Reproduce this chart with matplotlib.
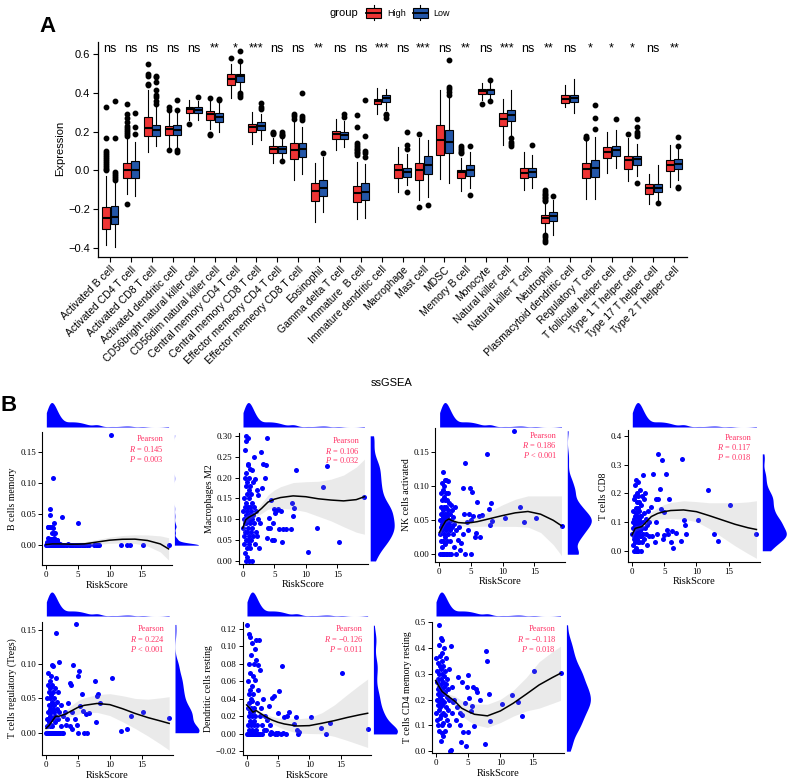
import numpy as np
import matplotlib
matplotlib.use("Agg")
import matplotlib.pyplot as plt
from matplotlib.legend_handler import HandlerBase
from matplotlib.patches import Rectangle, Patch
from matplotlib.lines import Line2D

plt.rcParams['font.family'] = ['Liberation Serif', 'DejaVu Serif']
plt.rcParams['mathtext.fontset'] = 'custom'
plt.rcParams['mathtext.it'] = 'Liberation Serif:italic'
plt.rcParams['mathtext.rm'] = 'Liberation Serif'

# ---------------- panel A data : ssGSEA boxplots ----------------
cells = ["Activated B cell", "Activated CD4 T cell", "Activated CD8 T cell", "Activated dendritic cell",
         "CD56bright natural killer cell", "CD56dim natural killer cell", "Central memory CD4 T cell",
         "Central memory CD8 T cell", "Effector memeory CD4 T cell", "Effector memeory CD8 T cell",
         "Eosinophil", "Gamma delta T cell", "Immature  B cell", "Immature dendritic cell", "Macrophage",
         "Mast cell", "MDSC", "Memory B cell", "Monocyte", "Natural killer cell", "Natural killer T cell",
         "Neutrophil", "Plasmacytoid dendritic cell", "Regulatory T cell", "T follicular helper cell",
         "Type 1 T helper cell", "Type 17 T helper cell", "Type 2 T helper cell"]
sig = ["ns", "ns", "ns", "ns", "ns", "**", "*", "***", "ns", "ns", "**", "ns", "ns", "***",
       "ns", "***", "ns", "**", "ns", "***", "ns", "**", "ns", "*", "*", "*", "ns", "**"]

hi_q1 = [-0.304, -0.041, 0.177, 0.182, 0.297, 0.263, 0.443, 0.198, 0.088, 0.058,
         -0.156, 0.163, -0.162, 0.342, -0.038, -0.05, 0.079, -0.038, 0.393, 0.229,
         -0.041, -0.27, 0.35, -0.041, 0.062, 0.007, -0.122, -0.002]
hi_med = [-0.247, 0.0, 0.218, 0.213, 0.316, 0.29, 0.474, 0.222, 0.11, 0.105,
          -0.105, 0.186, -0.118, 0.359, 0.0, 0.002, 0.156, -0.01, 0.411, 0.268,
          -0.012, -0.247, 0.371, 0.01, 0.096, 0.053, -0.093, 0.027]
hi_q3 = [-0.189, 0.041, 0.277, 0.23, 0.325, 0.306, 0.497, 0.239, 0.125, 0.143,
         -0.064, 0.204, -0.079, 0.368, 0.031, 0.041, 0.234, 0.005, 0.423, 0.299,
         0.015, -0.23, 0.388, 0.036, 0.122, 0.076, -0.072, 0.053]
hi_lo = [-0.385, -0.119, 0.093, 0.122, 0.26, 0.216, 0.375, 0.139, 0.04, -0.05,
         -0.265, 0.105, -0.253, 0.294, -0.11, -0.153, -0.045, -0.105, 0.363, 0.131,
         -0.101, -0.325, 0.325, -0.148, -0.015, -0.055, -0.174, -0.084]
hi_hi = [-0.03, 0.16, 0.414, 0.30, 0.363, 0.36, 0.552, 0.302, 0.17, 0.255,
         0.041, 0.268, 0.045, 0.428, 0.122, 0.165, 0.414, 0.065, 0.452, 0.371,
         0.096, -0.17, 0.44, 0.15, 0.196, 0.17, -0.019, 0.134]
hi_out = [[0.33, 0.17, 0.10, 0.09, 0.08, 0.07, 0.06, 0.05, 0.04, 0.03, 0.02, 0.01, 0.0],
          [0.345, 0.29, 0.27, 0.25, 0.23, 0.22, 0.21, 0.20, 0.19, 0.18, -0.174],
          [0.55, 0.497, 0.49, 0.448, 0.44],
          [0.325, 0.31, 0.108],
          [0.239],
          [0.375, 0.19, 0.185],
          [0.582],
          [],
          [0.2, 0.195, 0.19],
          [0.294, 0.28, 0.268],
          [],
          [],
          [0.285, 0.225, 0.14, 0.13, 0.122, 0.113, 0.105, 0.096, 0.088, 0.079],
          [],
          [],
          [0.19, -0.187],
          [],
          [0.127, 0.117, 0.108, 0.096, 0.088],
          [0.344],
          [],
          [],
          [-0.101, -0.11, -0.119, -0.128, -0.136, -0.143, -0.15, -0.155, -0.333, -0.345, -0.359, -0.371],
          [],
          [0.177, 0.17, 0.165],
          [],
          [0.186],
          [],
          []]

lo_q1 = [-0.277, -0.038, 0.177, 0.182, 0.299, 0.251, 0.457, 0.208, 0.091, 0.067,
         -0.132, 0.163, -0.153, 0.354, -0.033, -0.019, 0.088, -0.029, 0.397, 0.256,
         -0.033, -0.259, 0.354, -0.033, 0.076, 0.027, -0.113, 0.01]
lo_med = [-0.239, 0.0, 0.208, 0.211, 0.314, 0.277, 0.486, 0.232, 0.113, 0.11,
          -0.089, 0.182, -0.11, 0.376, -0.01, 0.027, 0.148, 0.002, 0.414, 0.285,
          -0.01, -0.235, 0.375, 0.015, 0.105, 0.057, -0.089, 0.033]
lo_q3 = [-0.184, 0.048, 0.237, 0.234, 0.325, 0.297, 0.5, 0.251, 0.125, 0.143,
         -0.05, 0.2, -0.067, 0.392, 0.015, 0.077, 0.208, 0.027, 0.423, 0.314,
         0.015, -0.213, 0.388, 0.053, 0.127, 0.077, -0.072, 0.057]
lo_lo = [-0.393, -0.132, 0.127, 0.113, 0.26, 0.2, 0.414, 0.156, 0.062, -0.019,
         -0.216, 0.122, -0.247, 0.311, -0.076, -0.136, -0.064, -0.093, 0.363, 0.182,
         -0.089, -0.333, 0.299, -0.148, 0.014, -0.03, -0.153, -0.05]
lo_hi = [-0.06, 0.145, 0.33, 0.30, 0.36, 0.355, 0.55, 0.294, 0.17, 0.225,
         0.067, 0.255, 0.033, 0.423, 0.085, 0.156, 0.38, 0.096, 0.455, 0.414,
         0.079, -0.153, 0.471, 0.174, 0.208, 0.139, 0.027, 0.115]
lo_out = [[0.36, 0.165, -0.01, -0.02, -0.03, -0.04, -0.05],
          [0.297, 0.225, 0.19],
          [0.49, 0.48, 0.457, 0.414, 0.39, 0.38, 0.36, 0.345],
          [0.363, 0.314, 0.105, 0.096],
          [0.38],
          [0.37, 0.363],
          [0.615, 0.565, 0.40, 0.39, 0.38],
          [0.349, 0.328, 0.318],
          [0.2, 0.19, 0.183, 0.176, 0.048],
          [0.4, 0.28, 0.27, 0.26],
          [0.091],
          [0.294, 0.277],
          [0.363, 0.177, 0.1, 0.088, 0.07],
          [0.294, 0.285, 0.273],
          [0.2, 0.13, 0.11, -0.11],
          [-0.179],
          [0.569, 0.43, 0.418, 0.405, 0.39],
          [0.127, -0.127],
          [0.466, 0.359],
          [0.165, 0.148, 0.139, 0.127],
          [0.13],
          [-0.131],
          [],
          [0.337, 0.271, 0.216],
          [0.268],
          [0.268, 0.225, 0.2, 0.19, 0.177, -0.067],
          [-0.167],
          [0.174, 0.125, -0.084, -0.093]]

# ---------------- panel B data : RiskScore vs immune cells ----------------
risk_core = [0.05, 0.1, 0.15, 0.2, 0.2, 0.25, 0.3, 0.3, 0.35, 0.35, 0.4, 0.4,
             0.45, 0.45, 0.5, 0.5, 0.55, 0.55, 0.6, 0.6, 0.6, 0.65, 0.65, 0.7,
             0.7, 0.75, 0.75, 0.8, 0.8, 0.8, 0.85, 0.85, 0.9, 0.9, 0.95, 0.95,
             1.0, 1.0, 1.0, 1.05, 1.05, 1.1, 1.1, 1.15, 1.15, 1.2, 1.2, 1.25,
             1.3, 1.3, 1.35, 1.4, 1.4, 1.45, 1.5, 1.55, 1.6, 1.65, 1.7, 1.75,
             1.8, 1.85, 1.9, 2.0, 2.05, 2.1, 2.2, 2.3, 2.4, 2.5, 2.6, 2.7]
risk_tail = [2.9, 3.1, 3.3, 3.5, 3.7, 3.8, 3.9, 4.0, 4.1, 4.3, 4.5, 4.7, 4.8, 5.0, 5.0, 5.2, 5.4,
             5.6, 5.8, 6.0, 6.2, 6.4, 6.8, 7.6, 7.8, 8.0, 8.2, 8.4, 10.3, 11.8, 12.7, 13.3, 15.2, 19.3]

b_cells_memory = [0, 0, 0.003, 0, 0.005, 0.03, 0, 0.03, 0.011, 0, 0, 0.006,
                  0, 0.01, 0, 0.003, 0, 0.03, 0.059, 0.049, 0, 0.01, 0, 0,
                  0, 0.002, 0, 0.004, 0, 0.01, 0, 0, 0.03, 0.02, 0, 0.006,
                  0, 0.01, 0, 0.108, 0, 0.028, 0, 0.004, 0, 0.012, 0, 0.02,
                  0.035, 0, 0, 0.02, 0, 0.003, 0, 0.006, 0.005, 0, 0.008, 0,
                  0.009, 0, 0.003, 0, 0.001, 0, 0.002, 0, 0, 0.045, 0, 0,
                  0, 0.001, 0, 0.002, 0, 0, 0, 0.001, 0, 0, 0, 0, 0, 0.035, 0, 0, 0,
                  0, 0, 0, 0, 0, 0, 0, 0, 0, 0, 0, 0.178, 0, 0, 0, 0, 0]
macrophages_m2 = [0.08, 0.12, 0.06, 0.15, 0.10, 0.04, 0.2, 0.09, 0.13, 0.02, 0.265, 0.07,
                  0.18, 0.11, 0.288, 0.05, 0.14, 0.0, 0.30, 0.09, 0.21, 0.03, 0.12, 0.16,
                  0.07, 0.19, 0.01, 0.1, 0.23, 0.05, 0.13, 0.08, 0.295, 0.233, 0.04, 0.17,
                  0.11, 0.06, 0.2, 0.15, 0.0, 0.09, 0.13, 0.22, 0.03, 0.1, 0.18, 0.07,
                  0.12, 0.05, 0.16, 0.217, 0.08, 0.1, 0.0, 0.14, 0.06, 0.19, 0.11, 0.25,
                  0.09, 0.13, 0.04, 0.197, 0.07, 0.12, 0.17, 0.06, 0.1, 0.158, 0.03, 0.09,
                  0.26, 0.175, 0.233, 0.20, 0.229, 0.295, 0.055, 0.08, 0.103, 0.079, 0.145, 0.05,
                  0.09, 0.124, 0.05, 0.115, 0.122, 0.125, 0.077, 0.12, 0.046, 0.077, 0.077, 0.077,
                  0.14, 0.108, 0.128, 0.219, 0.021, 0.078, 0.177, 0.228, 0.046, 0.154]
nk_activated = [0.03, 0.05, 0.0, 0.07, 0.04, 0.02, 0.09, 0.06, 0.0, 0.045, 0.105, 0.035,
                0.06, 0.01, 0.08, 0.05, 0.0, 0.095, 0.121, 0.04, 0.065, 0.02, 0.055, 0.085,
                0.03, 0.07, 0.0, 0.05, 0.1, 0.04, 0.06, 0.015, 0.08, 0.045, 0.11, 0.025,
                0.05, 0.0, 0.09, 0.035, 0.07, 0.11, 0.045, 0.02, 0.06, 0.08, 0.0, 0.055,
                0.108, 0.04, 0.065, 0.03, 0.09, 0.05, 0.0, 0.075, 0.045, 0.02, 0.06, 0.035,
                0.072, 0.05, 0.0, 0.04, 0.065, 0.03, 0.055, 0.01, 0.045, 0.07, 0.0, 0.035,
                0.021, 0.04, 0.006, 0.016, 0.097, 0.03, 0.06, 0.135, 0.0, 0.048, 0.035, 0.06,
                0.097, 0.05, 0.0, 0.092, 0.056, 0.026, 0.031, 0.077, 0.056, 0.026, 0.058, 0.147,
                0.067, 0.043, 0.075, 0.049, 0.054, 0.182, 0.069, 0.047, 0.054, 0.042]
t_cd8 = [0.06, 0.1, 0.02, 0.14, 0.08, 0.04, 0.18, 0.0, 0.11, 0.05, 0.23, 0.07,
         0.12, 0.03, 0.19, 0.09, 0.0, 0.15, 0.245, 0.06, 0.1, 0.01, 0.13, 0.08,
         0.05, 0.17, 0.0, 0.09, 0.2, 0.04, 0.12, 0.07, 0.24, 0.03, 0.15, 0.1,
         0.06, 0.19, 0.0, 0.11, 0.08, 0.14, 0.03, 0.17, 0.09, 0.05, 0.12, 0.21,
         0.07, 0.1, 0.0, 0.16, 0.05, 0.12, 0.08, 0.03, 0.19, 0.265, 0.1, 0.06,
         0.13, 0.04, 0.18, 0.08, 0.2, 0.06, 0.11, 0.02, 0.09, 0.14, 0.05, 0.1,
         0.151, 0.05, 0.267, 0.031, 0.179, 0.1, 0.058, 0.337, 0.179, 0.215, 0.145, 0.316,
         0.04, 0.135, 0.055, 0.267, 0.072, 0.06, 0.179, 0.031, 0.07, 0.008, 0.063, 0.034,
         0.319, 0.107, 0.09, 0.06, 0.107, 0.212, 0.057, 0.035, 0.16, 0.057]
tregs = [0.0, 0.02, 0.0, 0.05, 0.01, 0.0, 0.07, 0.03, 0.0, 0.087, 0.015, 0.04,
         0.0, 0.06, 0.02, 0.0, 0.035, 0.075, 0.0, 0.01, 0.05, 0.0, 0.025, 0.065,
         0.0, 0.04, 0.012, 0.0, 0.083, 0.03, 0.0, 0.055, 0.099, 0.0, 0.02, 0.045,
         0.0, 0.07, 0.01, 0.035, 0.0, 0.06, 0.02, 0.0, 0.098, 0.04, 0.0, 0.03,
         0.05, 0.0, 0.015, 0.065, 0.0, 0.025, 0.145, 0.0, 0.08, 0.035, 0.0, 0.045,
         0.0, 0.02, 0.06, 0.0, 0.103, 0.03, 0.0, 0.04, 0.01, 0.0, 0.025, 0.0,
         0.03, 0.012, 0.02, 0.043, 0.072, 0.01, 0.069, 0.03, 0.005, 0.099, 0.02, 0.158,
         0.011, 0.083, 0.0, 0.09, 0.039, 0.057, 0.031, 0.0, 0.028, 0.0, 0.029, 0.076,
         0.015, 0.054, 0.056, 0.044, 0.08, 0.003, 0.005, 0.025, 0.03, 0.021]
dc_resting = [0.124, 0.0, 0.03, 0.01, 0.06, 0.0, 0.045, 0.02, 0.114, 0.0, 0.035, 0.005,
              0.08, 0.0, 0.015, 0.05, 0.11, 0.002, 0.025, 0.0, 0.07, 0.01, 0.04, 0.0,
              0.09, 0.0, 0.03, 0.005, 0.055, 0.0, 0.104, 0.02, 0.0, 0.038, 0.012, 0.0,
              0.066, 0.0, 0.025, 0.003, 0.045, 0.0, 0.015, 0.08, 0.0, 0.03, 0.0, 0.01,
              0.097, 0.0, 0.062, 0.02, 0.0, 0.084, 0.005, 0.107, 0.0, 0.035, 0.01, 0.0,
              0.05, 0.079, 0.107, 0.0, 0.073, 0.02, 0.0, 0.03, 0.01, 0.0, 0.04, 0.005,
              0.02, 0.005, 0.016, 0.032, 0.010, 0.0, 0.002, 0.041, 0.001, 0.043, 0.0, 0.001,
              0.0, 0.024, 0.001, 0.0495, 0.0, 0.078, 0.001, 0.019, 0.0, 0.02, 0.025, 0.011,
              0.019, 0.005, 0.0, 0.002, 0.019, 0.007, 0.0, 0.012, 0.07, 0.006]
cd4_mem_resting = [0.36, 0.15, 0.27, 0.2, 0.31, 0.12, 0.24, 0.34, 0.18, 0.28, 0.1, 0.22,
                   0.41, 0.16, 0.49, 0.25, 0.08, 0.3, 0.19, 0.37, 0.13, 0.23, 0.33, 0.21,
                   0.17, 0.28, 0.04, 0.44, 0.22, 0.14, 0.32, 0.26, 0.1, 0.35, 0.2, 0.43,
                   0.24, 0.07, 0.3, 0.18, 0.38, 0.06, 0.27, 0.15, 0.22, 0.33, 0.11, 0.25,
                   0.4, 0.19, 0.29, 0.08, 0.23, 0.31, 0.14, 0.26, 0.17, 0.36, 0.12, 0.21,
                   0.28, 0.16, 0.24, 0.32, 0.1, 0.2, 0.0, 0.408, 0.005, 0.15, 0.25, 0.19,
                   0.2, 0.12, 0.17, 0.289, 0.15, 0.1, 0.037, 0.27, 0.14, 0.076, 0.186, 0.022,
                   0.25, 0.295, 0.076, 0.205, 0.156, 0.176, 0.25, 0.096, 0.24, 0.231, 0.199, 0.028,
                   0.388, 0.348, 0.221, 0.118, 0.182, 0.217, 0.19, 0.137, 0.311, 0.302]

b_names = ["B cells memory", "Macrophages M2", "NK cells activated", "T cells CD8",
           "T cells regulatory (Tregs)", "Dendritic cells resting", "T cells CD4 memory resting"]
b_values = [b_cells_memory, macrophages_m2, nk_activated, t_cd8, tregs, dc_resting, cd4_mem_resting]
b_R = ["0.145", "0.106", "0.186", "0.117", "0.224", "\u22120.126", "\u22120.118"]
b_P = ["= 0.003", "= 0.032", "< 0.001", "= 0.018", "< 0.001", "= 0.011", "= 0.018"]

# loess fit (value and half-width of the grey band)
fit_x = [0, 0.5, 1, 1.5, 2, 3, 4, 5, 6, 8, 10, 12, 14, 16, 18, 19.3]
fit_y = [
    [0.001, 0.0015, 0.002, 0.002, 0.002, 0.0018, 0.0015, 0.0016, 0.002, 0.005, 0.008, 0.0095, 0.0097, 0.0075, 0.002, -0.006],
    [0.079, 0.099, 0.105, 0.109, 0.113, 0.126, 0.141, 0.148, 0.152, 0.156, 0.154, 0.149, 0.146, 0.144, 0.147, 0.154],
    [0.032, 0.041, 0.049, 0.052, 0.0495, 0.0466, 0.046, 0.0466, 0.048, 0.0525, 0.057, 0.061, 0.063, 0.059, 0.05, 0.042],
    [0.055, 0.078, 0.081, 0.084, 0.095, 0.119, 0.130, 0.136, 0.140, 0.142, 0.136, 0.122, 0.107, 0.092, 0.08, 0.074],
    [0.0063, 0.011, 0.0175, 0.024, 0.024, 0.027, 0.032, 0.037, 0.040, 0.0427, 0.041, 0.035, 0.028, 0.022, 0.017, 0.0136],
    [0.0331, 0.0293, 0.0248, 0.0267, 0.0244, 0.0198, 0.016, 0.0133, 0.0114, 0.0091, 0.0095, 0.0122, 0.0152, 0.0187, 0.0218, 0.0236],
    [0.274, 0.251, 0.231, 0.221, 0.212, 0.193, 0.167, 0.154, 0.143, 0.137, 0.156, 0.186, 0.221, 0.257, 0.285, 0.302]]
fit_se = [
    [0.003, 0.002, 0.0015, 0.0015, 0.0015, 0.002, 0.0025, 0.003, 0.0035, 0.004, 0.005, 0.006, 0.007, 0.009, 0.013, 0.018],
    [0.02, 0.01, 0.007, 0.007, 0.008, 0.012, 0.017, 0.022, 0.026, 0.032, 0.036, 0.042, 0.05, 0.062, 0.078, 0.09],
    [0.006, 0.004, 0.003, 0.003, 0.003, 0.004, 0.005, 0.006, 0.007, 0.011, 0.016, 0.02, 0.023, 0.027, 0.036, 0.044],
    [0.015, 0.01, 0.008, 0.008, 0.01, 0.016, 0.02, 0.025, 0.028, 0.032, 0.035, 0.045, 0.06, 0.075, 0.09, 0.1],
    [0.006, 0.004, 0.003, 0.003, 0.003, 0.005, 0.008, 0.01, 0.011, 0.013, 0.016, 0.019, 0.022, 0.027, 0.034, 0.039],
    [0.005, 0.003, 0.002, 0.002, 0.002, 0.003, 0.004, 0.005, 0.006, 0.008, 0.009, 0.012, 0.018, 0.026, 0.034, 0.039],
    [0.02, 0.012, 0.01, 0.01, 0.01, 0.02, 0.03, 0.035, 0.04, 0.045, 0.045, 0.05, 0.065, 0.09, 0.1, 0.105]]

# ---------------- layout (pixels of the 789x782 picture) ----------------
W, H = 789, 782
fig = plt.figure(figsize=(W / 100, H / 100), dpi=100)


def px_axes(l, t, r, b):
    return fig.add_axes([l / W, 1 - b / H, (r - l) / W, (b - t) / H])


def density(values, grid):
    v = np.asarray(values, float)
    n = v.size
    sd = v.std(ddof=1)
    q75, q25 = np.percentile(v, [75, 25])
    spread = min(sd, (q75 - q25) / 1.34) or sd
    bw = 0.9 * spread * n ** -0.2 * 0.75
    bw = max(bw, 0.016 * (v.max() - v.min()))
    z = (grid[:, None] - v[None, :]) / bw
    return np.exp(-0.5 * z ** 2).sum(axis=1) / (n * bw * np.sqrt(2 * np.pi))


class BoxKey(HandlerBase):
    def create_artists(self, legend, orig_handle, xdescent, ydescent, width, height, fontsize, trans):
        x0, y0 = -xdescent, -ydescent
        whisk = Line2D([x0 + width / 2] * 2, [y0 - 0.25 * height, y0 + 1.25 * height],
                       color='black', lw=0.8, transform=trans)
        box = Rectangle((x0, y0), width, height, facecolor=orig_handle.get_facecolor(),
                        edgecolor='black', lw=0.8, transform=trans)
        med = Line2D([x0, x0 + width], [y0 + height / 2] * 2, color='black', lw=1.3, transform=trans)
        return [whisk, box, med]


RED, BLUE = '#EE3434', '#2356A8'
SANS = 'Liberation Sans'

# ---------------- panel A ----------------
axA = px_axes(97.7, 42, 686.7, 256.7)
pos = np.arange(1, len(cells) + 1)
for q1, med, q3, lo, hi, out, col, shift in [
        (hi_q1, hi_med, hi_q3, hi_lo, hi_hi, hi_out, RED, -0.205),
        (lo_q1, lo_med, lo_q3, lo_lo, lo_hi, lo_out, BLUE, 0.205)]:
    stats = [dict(q1=a, med=b, q3=c, whislo=d, whishi=e, fliers=f)
             for a, b, c, d, e, f in zip(q1, med, q3, lo, hi, out)]
    axA.bxp(stats, positions=pos + shift, widths=0.38, patch_artist=True, showcaps=False,
            boxprops=dict(facecolor=col, edgecolor='black', linewidth=0.8),
            medianprops=dict(color='black', linewidth=1.5),
            whiskerprops=dict(color='black', linewidth=0.8),
            flierprops=dict(marker='o', markerfacecolor='black', markeredgecolor='black',
                            markersize=3.2))
for p, s in zip(pos, sig):
    axA.text(p, 0.612, s, ha='center', va='baseline', fontsize=9, family=SANS)
axA.set_xlim(0.4, 28.6)
axA.set_ylim(-0.445, 0.663)
yv = [-0.4, -0.2, 0.0, 0.2, 0.4, 0.6]
axA.set_yticks(yv, [f"{v:.1f}".replace('-', '\u2212') for v in yv], fontsize=8, family=SANS)
axA.set_xticks(pos, cells, rotation=45, ha='right', va='top', rotation_mode='anchor',
               fontsize=7.5, family=SANS)
axA.tick_params(length=3.5, width=0.8, pad=2)
for sp in ['top', 'right']:
    axA.spines[sp].set_visible(False)
for sp in ['left', 'bottom']:
    axA.spines[sp].set_linewidth(0.9)
fig.text(60 / W, 1 - 148 / H, 'Expression', rotation=90, ha='center', va='center', fontsize=8, family=SANS)
fig.text(392 / W, 1 - 383 / H, 'ssGSEA', ha='center', va='center', fontsize=8, family=SANS)
fig.text(47 / W, 1 - 27 / H, 'A', ha='center', va='center', fontsize=16, fontweight='bold', family=SANS)
fig.text(330 / W, 1 - 12.7 / H, 'group', ha='left', va='center', fontsize=8, family=SANS)
fig.legend([Patch(facecolor=RED), Patch(facecolor=BLUE)], ['High', 'Low'],
           handler_map={Patch: BoxKey()}, loc='center left', bbox_to_anchor=(366 / W, 1 - 12.7 / H),
           ncol=2, frameon=False, prop=dict(family=SANS, size=6.5), handlelength=1.7,
           handleheight=1.3, handletextpad=0.6, columnspacing=0.8, borderpad=0, borderaxespad=0)

# ---------------- panel B ----------------
fig.text(8.5 / W, 1 - 405.7 / H, 'B', ha='center', va='center', fontsize=16, fontweight='bold', family=SANS)

main_boxes = [(42.2, 431.7, 172.4, 565), (238.9, 433.3, 368.2, 564.3), (435.5, 428, 565.3, 561.7),
              (628.1, 430, 760.3, 561.7), (42.2, 621.7, 173, 755), (242.9, 621.7, 371.4, 755),
              (431.8, 621.7, 564.4, 753)]
top_rows = [(402.5, 427), (402.5, 427), (402.5, 427), (402.5, 427), (592, 616), (592, 616), (592, 616)]
y_lims = [(-0.032, 0.183), (-0.008, 0.306), (-0.011, 0.186), (-0.038, 0.42),
          (-0.0325, 0.162), (-0.024, 0.128), (-0.007, 0.502)]
y_ticks = [[0, 0.05, 0.10, 0.15], [0, 0.05, 0.10, 0.15, 0.20, 0.25, 0.30], [0, 0.05, 0.10, 0.15],
           [0, 0.1, 0.2, 0.3, 0.4], [0, 0.05, 0.10, 0.15], [-0.02, 0, 0.02, 0.04, 0.06, 0.08, 0.10, 0.12],
           [0, 0.1, 0.2, 0.3, 0.4, 0.5]]
y_dec = [2, 2, 2, 1, 2, 2, 1]
PT_BLUE = '#0000FF'
TXT_RED = '#FF3366'
xs = np.array(risk_core + risk_tail)
xlim = (-0.6, 19.9)

for k in range(7):
    l, t, r, b = main_boxes[k]
    ys = np.array(b_values[k])
    ax = px_axes(l, t, r, b)
    ax.scatter(xs, ys, s=13, color=PT_BLUE, linewidths=0, zorder=2)
    fy = np.array(fit_y[k])
    fs = np.array(fit_se[k])
    ax.fill_between(fit_x, fy - fs, fy + fs, color='#999999', alpha=0.2, lw=0, zorder=3)
    ax.plot(fit_x, fy, color='black', lw=1.1, zorder=4)
    ax.set_xlim(*xlim)
    ax.set_ylim(*y_lims[k])
    ax.set_xticks([0, 5, 10, 15], ['0', '5', '10', '15'], fontsize=6.5)
    ax.set_yticks(y_ticks[k], [f"{v:.{y_dec[k]}f}".replace('-', '\u2212') for v in y_ticks[k]], fontsize=6.5)
    ax.tick_params(length=3, width=0.7, pad=1.5)
    for sp in ['top', 'right']:
        ax.spines[sp].set_visible(False)
    for sp in ['left', 'bottom']:
        ax.spines[sp].set_linewidth(0.8)
    ax.set_xlabel('RiskScore', fontsize=7.5, labelpad=1)
    ax.set_ylabel(b_names[k], fontsize=7, labelpad=2)
    lines = ['Pearson', r'$R$ = ' + b_R[k], r'$P$ ' + b_P[k]]
    for i, line in enumerate(lines):
        ax.annotate(line, xy=(1, 1), xycoords='axes fraction', xytext=(-6, -5.5 - 7 * i),
                    textcoords='offset points', ha='right', va='center', color=TXT_RED, fontsize=6)

    # top marginal density of RiskScore
    tt, tb = top_rows[k]
    axt = px_axes(l, tt, r, tb)
    gx = np.linspace(xs.min(), xs.max(), 400)
    dx = density(xs, gx)
    axt.fill_between(gx, 0, dx, color=PT_BLUE, lw=0)
    axt.set_xlim(*xlim)
    axt.set_ylim(0, dx.max())
    axt.axis('off')

    # right marginal density of the cell fraction
    axr = px_axes(r + 2, t, r + 26, b)
    gy = np.linspace(ys.min(), ys.max(), 400)
    dy = density(ys, gy)
    axr.fill_betweenx(gy, 0, dy, color=PT_BLUE, lw=0)
    axr.set_ylim(*y_lims[k])
    axr.set_xlim(0, dy.max())
    axr.axis('off')

fig.savefig('out.png', dpi=100)
